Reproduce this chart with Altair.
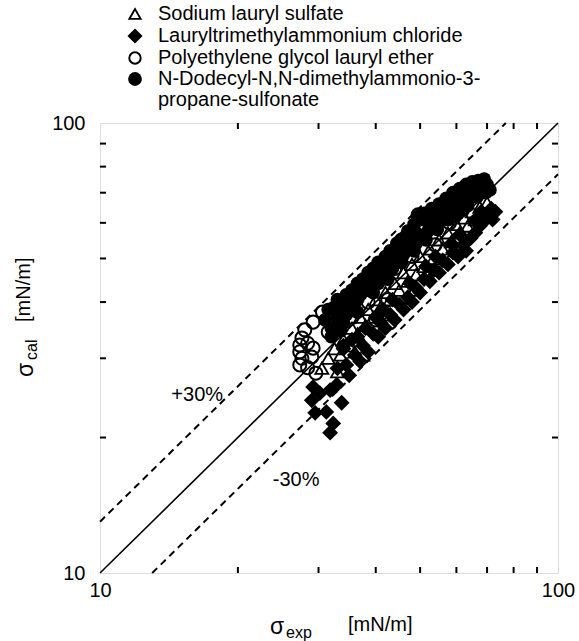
import altair as alt
import pandas as pd

# ---------------- data (sigma_exp, sigma_cal) in mN/m ----------------
# Sodium lauryl sulfate (open triangles)
sls_x = [30.5, 31.5, 32.5, 33.0, 33.5, 34.0, 35.0, 35.5, 36.0, 36.5,
         37.0, 37.5, 38.0, 38.5, 39.5, 40.0, 41.0, 42.0, 42.5, 43.0,
         44.0, 45.0, 46.0, 47.0, 48.0, 48.5, 49.0, 50.0, 51.0, 52.5,
         53.5, 54.0, 55.0, 56.0, 57.5, 58.5, 59.5, 60.0, 61.0, 62.5,
         63.5, 65.0, 66.0, 67.5, 68.5, 70.0]
sls_y = [28.5, 30.0, 31.5, 28.0, 30.5, 33.0, 32.0, 35.0, 31.0, 34.0,
         37.0, 30.5, 35.5, 38.5, 37.0, 40.5, 39.0, 42.0, 37.5, 40.5,
         44.0, 42.5, 46.5, 44.5, 48.5, 42.5, 46.0, 50.5, 48.0, 52.5,
         50.0, 47.5, 55.0, 52.5, 57.0, 54.5, 52.0, 59.5, 57.0, 61.5,
         59.0, 63.5, 61.0, 65.0, 62.5, 66.5]

# Lauryltrimethylammonium chloride (filled diamonds)
ltac_x = [29.2, 29.0, 30.2, 31.8, 32.9, 33.7, 29.5, 31.2, 32.3, 31.8,
          33.0, 34.0, 34.5, 35.0, 36.0, 36.5, 37.0, 37.5, 38.5, 39.5,
          40.5, 41.0, 42.0, 43.0, 44.0, 45.0, 46.0, 47.0, 48.0, 49.0,
          50.0, 51.0, 52.5, 53.5, 55.0, 56.0, 57.5, 59.0, 60.5, 62.0,
          63.0, 64.5, 66.0, 67.5, 68.5, 69.0, 70.5, 71.5, 72.0, 73.0,
          34.0, 35.5, 38.0, 40.0, 41.5, 43.5, 47.5, 51.5, 54.0, 58.5,
          61.0, 66.0, 68.0]
ltac_y = [25.9, 24.2, 25.1, 25.5, 26.2, 23.9, 22.7, 22.8, 21.5, 20.5,
          28.5, 31.5, 29.0, 27.5, 30.5, 33.5, 29.5, 32.0, 31.0, 34.0,
          33.5, 36.0, 35.0, 37.5, 36.5, 39.5, 38.5, 41.0, 40.0, 43.0,
          42.0, 45.0, 44.5, 47.0, 46.5, 49.5, 48.5, 51.5, 50.5, 53.5,
          52.0, 55.5, 57.0, 59.0, 62.0, 60.5, 62.5, 64.5, 61.0, 63.5,
          32.0, 33.0, 35.0, 37.0, 38.5, 40.5, 44.0, 48.0, 50.5, 54.0,
          56.5, 61.0, 63.5]

# Polyethylene glycol lauryl ether (open circles)
pgle_x = [30.6, 29.2, 28.0, 27.6, 27.3, 28.4, 27.3, 27.6, 27.3, 29.0,
          29.2, 28.4, 29.6, 31.5, 43.0, 42.5, 45.5, 49.5, 50.4, 46.3,
          53.9, 35.5, 38.5, 40.0, 58.0, 61.5, 44.0, 48.0]
pgle_y = [38.0, 36.1, 34.7, 33.3, 32.1, 32.4, 31.0, 30.0, 29.0, 30.2,
          31.6, 28.6, 27.8, 34.3, 36.0, 40.5, 54.9, 62.5, 61.6, 54.4,
          53.6, 37.0, 40.0, 36.5, 60.0, 64.0, 47.5, 50.5]

# N-Dodecyl-N,N-dimethylammonio-3-propane-sulfonate (filled circles)
ddaps_x = [31.0, 31.5, 32.0, 32.5, 33.0, 33.0, 33.8, 34.5, 34.0, 35.0,
           35.5, 36.0, 36.5, 37.0, 37.5, 38.0, 38.5, 39.0, 39.5, 40.0,
           40.5, 41.0, 42.0, 42.5, 43.0, 44.0, 44.5, 45.0, 46.0, 46.5,
           47.0, 48.0, 48.5, 49.0, 50.0, 49.5, 51.0, 52.0, 53.0, 54.0,
           55.0, 56.0, 57.0, 58.0, 59.0, 60.0, 61.0, 62.0, 63.0, 64.0,
           65.0, 66.0, 67.0, 68.0, 69.0, 70.0, 71.0, 69.5, 66.5, 63.5,
           60.5, 57.5, 54.5, 51.5, 48.5, 45.5, 42.5, 39.5, 36.5, 33.5,
           32.0, 33.0, 34.5, 36.5, 38.5, 40.5, 41.5, 43.5, 46.0, 47.5,
           49.0, 50.5, 52.0, 53.5, 55.5, 57.0, 58.5, 60.0, 62.0, 64.0,
           66.0, 68.0, 70.0]
ddaps_y = [36.5, 38.5, 35.0, 39.0, 37.0, 40.5, 38.5, 41.5, 36.0, 39.5,
           42.5, 40.0, 44.0, 41.5, 45.0, 43.0, 46.5, 44.5, 47.5, 45.5,
           49.0, 47.0, 50.5, 48.0, 52.0, 50.0, 54.0, 52.0, 55.5, 53.0,
           57.5, 55.0, 59.5, 57.0, 61.0, 62.0, 63.0, 60.5, 64.5, 62.0,
           66.0, 64.0, 68.0, 66.0, 70.0, 67.5, 71.5, 69.0, 73.0, 70.5,
           74.0, 72.0, 74.5, 73.0, 75.0, 73.0, 71.0, 70.0, 68.5, 65.5,
           63.0, 61.0, 58.0, 55.0, 52.0, 49.0, 45.0, 42.0, 38.0, 34.5,
           33.5, 35.5, 37.5, 40.5, 42.5, 44.0, 46.0, 47.5, 51.0, 52.5,
           54.0, 56.0, 57.5, 59.5, 61.0, 63.5, 64.0, 65.5, 67.0, 68.0,
           70.0, 70.5, 71.5]

legend_labels = ["Sodium lauryl sulfate",
                 "Lauryltrimethylammonium chloride",
                 "Polyethylene glycol lauryl ether",
                 "N-Dodecyl-N,N-dimethylammonio-3-",
                 "propane-sulfonate"]

ratios = [1.0, 1.3, 1 / 1.3]          # y = x, +30 %, -30 %
axis_ends = [10, 100]
minor_ticks = [20, 30, 40, 50, 60, 70, 80, 90]
annot_text = ["+30%", "-30%"]
annot_x = [16.3, 26.8]
annot_y = [24.9, 16.1]

# ---------------- layout ----------------
W, H = 458, 450
FONT = "Liberation Sans"

xs = alt.Scale(type="log", domain=axis_ends, nice=False)
ys = alt.Scale(type="log", domain=axis_ends, nice=False)
xax = alt.Axis(values=axis_ends, format="d", labelFlush=False, labelOverlap=False,
               labelPadding=7, ticks=False, domain=False, grid=False, title=None,
               labelFont=FONT, labelFontSize=20, labelColor="black")
yax = alt.Axis(values=axis_ends, format="d", labelFlush=False, labelOverlap=False,
               labelPadding=15, ticks=False, domain=False, grid=False, title=None,
               labelFont=FONT, labelFontSize=20, labelColor="black")


def X(field):
    return alt.X(field, type="quantitative", scale=xs, axis=xax)


def Y(field):
    return alt.Y(field, type="quantitative", scale=ys, axis=yax)


# reference lines
line_rows = []
for k, r in enumerate(ratios):
    x0 = max(axis_ends[0], axis_ends[0] / r)
    x1 = min(axis_ends[1], axis_ends[1] / r)
    line_rows.append({"id": k, "x": x0, "y": x0 * r})
    line_rows.append({"id": k, "x": x1, "y": x1 * r})
lines_df = pd.DataFrame(line_rows)

solid = alt.Chart(lines_df[lines_df.id == 0]).mark_line(
    color="black", strokeWidth=1.6).encode(x=X("x"), y=Y("y"), detail="id:N")
dashed = alt.Chart(lines_df[lines_df.id != 0]).mark_line(
    color="black", strokeWidth=2, strokeDash=[7, 5]).encode(
    x=X("x"), y=Y("y"), detail="id:N")

# data layers
sls = alt.Chart(pd.DataFrame({"x": sls_x, "y": sls_y})).mark_point(
    shape="triangle-up", filled=False, color="black", strokeWidth=1.8,
    size=170, opacity=1).encode(x=X("x"), y=Y("y"))
pgle = alt.Chart(pd.DataFrame({"x": pgle_x, "y": pgle_y})).mark_point(
    shape="circle", filled=False, color="black", strokeWidth=2,
    size=170, opacity=1).encode(x=X("x"), y=Y("y"))
ltac = alt.Chart(pd.DataFrame({"x": ltac_x, "y": ltac_y})).mark_point(
    shape="diamond", filled=True, color="black", size=250,
    opacity=1).encode(x=X("x"), y=Y("y"))
ddaps = alt.Chart(pd.DataFrame({"x": ddaps_x, "y": ddaps_y})).mark_point(
    shape="circle", filled=True, color="black", size=190,
    opacity=1).encode(x=X("x"), y=Y("y"))

# inward minor ticks on all four sides
tk = pd.DataFrame({"v": minor_ticks})
TL = 6
tick_bottom = alt.Chart(tk).mark_rule(color="black", strokeWidth=2).encode(
    x=alt.X("v:Q", scale=xs, axis=xax), y=alt.value(H), y2=alt.value(H - TL))
tick_top = alt.Chart(tk).mark_rule(color="black", strokeWidth=2).encode(
    x=alt.X("v:Q", scale=xs, axis=xax), y=alt.value(0), y2=alt.value(TL))
tick_left = alt.Chart(tk).mark_rule(color="black", strokeWidth=2).encode(
    y=alt.Y("v:Q", scale=ys, axis=yax), x=alt.value(0), x2=alt.value(TL))
tick_right = alt.Chart(tk).mark_rule(color="black", strokeWidth=2).encode(
    y=alt.Y("v:Q", scale=ys, axis=yax), x=alt.value(W), x2=alt.value(W - TL))

# annotations
annot = alt.Chart(pd.DataFrame({"x": annot_x, "y": annot_y, "t": annot_text})).mark_text(
    font=FONT, fontSize=20, color="black", align="center", baseline="middle").encode(
    x=X("x"), y=Y("y"), text="t:N")

one = pd.DataFrame({"a": [0]})


def txt(s, x, y, size=20, angle=0, align="left"):
    return alt.Chart(one).mark_text(
        text=s, font=FONT, fontSize=size, color="black", align=align,
        baseline="middle", angle=angle).encode(x=alt.value(x), y=alt.value(y))


titles = [
    txt("σ", 177, 504, size=23, align="center"),
    txt("exp", 186, 510, size=16),
    txt("[mN/m]", 248, 502, size=20),
    txt("σ", -74, 247, size=23, angle=270, align="center"),
    txt("cal", -68, 237, size=16, angle=270, align="left"),
    txt("[mN/m]", -76, 199, size=20, angle=270, align="left"),
]

# legend (drawn above the plot)
LX_SYM, LX_TXT = 35, 58
rows_y = [-109, -87, -65, -44, -23]
leg_marks = [
    alt.Chart(one).mark_point(shape="triangle-up", filled=False, color="black",
                              strokeWidth=1.8, size=130, opacity=1).encode(
        x=alt.value(LX_SYM), y=alt.value(rows_y[0])),
    alt.Chart(one).mark_point(shape="diamond", filled=True, color="black",
                              size=230, opacity=1).encode(
        x=alt.value(LX_SYM), y=alt.value(rows_y[1])),
    alt.Chart(one).mark_point(shape="circle", filled=False, color="black",
                              strokeWidth=2, size=130, opacity=1).encode(
        x=alt.value(LX_SYM), y=alt.value(rows_y[2])),
    alt.Chart(one).mark_point(shape="circle", filled=True, color="black",
                              size=190, opacity=1).encode(
        x=alt.value(LX_SYM), y=alt.value(rows_y[3])),
]
leg_text = [txt(lab, LX_TXT, yy, size=20) for lab, yy in zip(legend_labels, rows_y)]

chart = alt.layer(
    tick_bottom, tick_top, tick_left, tick_right,
    solid, dashed, sls, pgle, ltac, ddaps, annot,
    *titles, *leg_marks, *leg_text
).properties(
    width=W, height=H,
    autosize=alt.AutoSizeParams(type="none"),
    padding={"left": 100, "top": 123, "right": 21, "bottom": 68},
).configure_view(
    stroke="black", strokeWidth=3
).configure(background="white")

chart.save("out.html", embed_options={"renderer": "svg", "actions": False})
